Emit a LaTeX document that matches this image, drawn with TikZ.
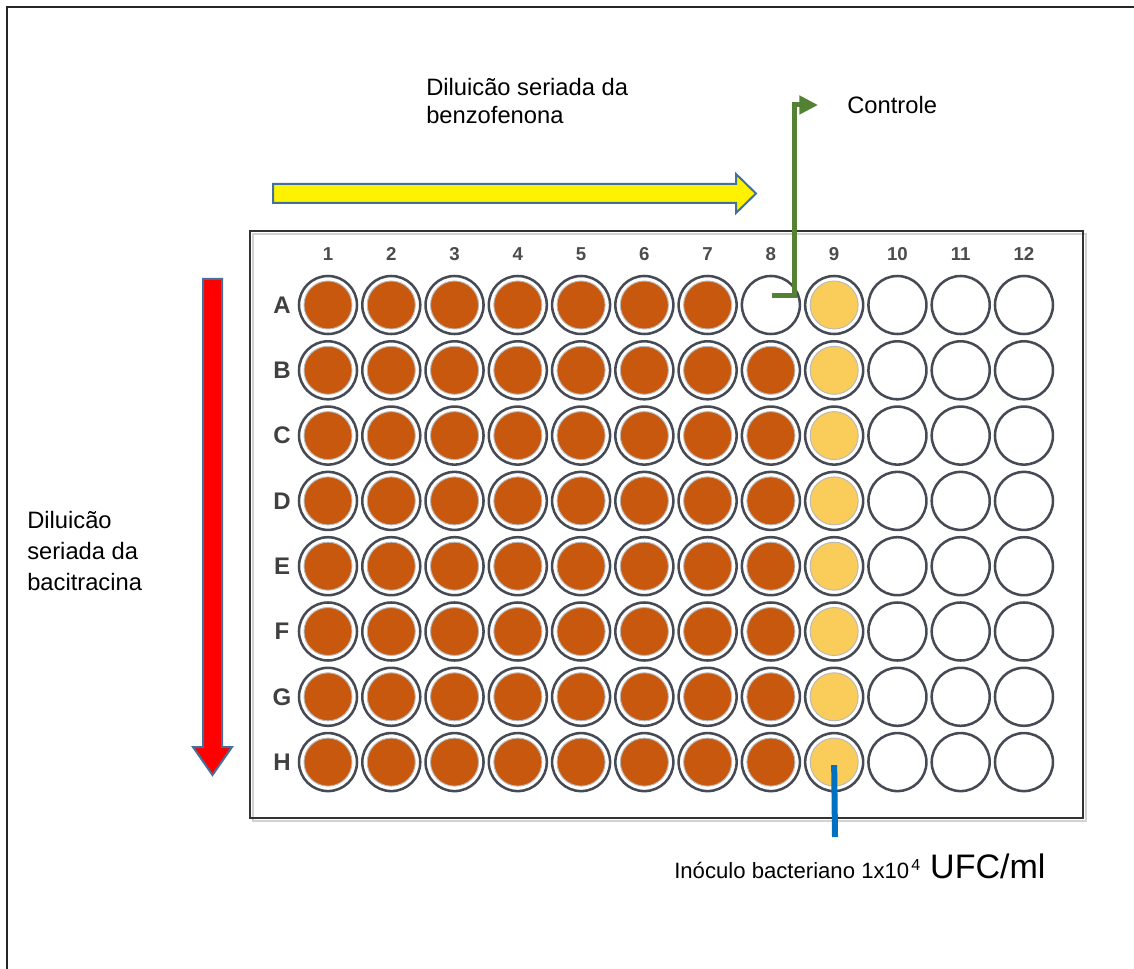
\documentclass[tikz,border=0pt]{standalone}
\usepackage{fontspec}
\setmainfont{Liberation Sans}
\usetikzlibrary{arrows.meta}
\definecolor{wellbrown}{RGB}{200,88,14}
\definecolor{wellyellow}{RGB}{250,205,90}
\definecolor{ringgray}{RGB}{70,74,84}
\definecolor{arrowedge}{RGB}{65,113,156}
\definecolor{conngreen}{RGB}{84,130,53}
\definecolor{connblue}{RGB}{0,112,192}
\tikzset{
  well/.style={circle, draw=ringgray, line width=1.9pt, minimum size=43.5pt, inner sep=0pt, fill=white},
  filledwell/.style={well, path picture={\filldraw[draw=gray!55, line width=0.7pt, fill=#1] (path picture bounding box.center) circle (18pt);}},
  brownwell/.style={filledwell=wellbrown},
  yellowwell/.style={filledwell=wellyellow},
  emptywell/.style={well},
  collabel/.style={font=\fontsize{14}{16}\selectfont\bfseries, text=black!70, inner sep=0pt},
  rowlabel/.style={font=\fontsize{18}{20}\selectfont\bfseries, text=black!75, inner sep=0pt},
  label/.style={font=\fontsize{17.8}{21}\selectfont, inner sep=0pt, align=left},
  blockarrow/.style={draw=arrowedge, line width=1.5pt, line join=miter},
  greenconn/.style={draw=conngreen, line width=3.75pt, line join=miter, -{Triangle[length=14pt,width=13.5pt]}},
  blueconn/.style={draw=connblue, line width=4.5pt},
}
\begin{document}
\begin{tikzpicture}[x=0.75pt,y=-0.75pt]
\clip (0,0) rectangle (1134,969);
\fill[white] (0,0) rectangle (1134,969);
% outer frame
\draw[black!85, line width=1.6pt] (7,7) rectangle (1200,1200);
% plate
\draw[gray!35, line width=2pt] (253,234) rectangle (1086,821);
\draw[black!80, line width=1.8pt] (250,231) rectangle (1083,818);
% column labels
\foreach \c in {1,...,12}{
  \pgfmathsetmacro\wx{328+(\c-1)*63.27}
  \node[collabel] (n\c) at (\wx,254) {\c};
}
% wells
\foreach \r [count=\i from 0] in {A,B,C,D,E,F,G,H}{
  \pgfmathsetmacro\wy{305+\i*65.3}
  \node[rowlabel] (l\r) at (282,\wy) {\r};
  \foreach \c in {1,...,12}{
    \pgfmathsetmacro\wx{328+(\c-1)*63.27}
    \ifnum\c<9 \def\wst{brownwell}\else\ifnum\c=9 \def\wst{yellowwell}\else\def\wst{emptywell}\fi\fi
    \ifnum\i=0 \ifnum\c=8 \def\wst{emptywell}\fi\fi
    \edef\tmp{\noexpand\node[\wst] (\r\c) at (\wx,\wy) {};}\tmp
  }
}
% yellow arrow
\filldraw[blockarrow, fill=yellow] (273,184) -- (736,184) -- (736,174) -- (756,193.5) -- (736,213) -- (736,203) -- (273,203) -- cycle;
% red arrow
\filldraw[blockarrow, fill=red] (203,279) -- (222,279) -- (222,747) -- (232,747) -- (212.5,775) -- (193,747) -- (203,747) -- cycle;
% texts
\node[label, anchor=west] (tbenz) at (426,101) {Diluicão seriada da\\benzofenona};
\node[label, anchor=west, font=\fontsize{17.8}{23}\selectfont] (tbaci) at (27,551) {Diluicão\\seriada da\\bacitracina};
\node[label, anchor=west] (tctrl) at (847,105) {Controle};
\node[inner sep=0pt, anchor=base west] (tinoc) at (674,878) {\fontsize{16.6}{19}\selectfont Inóculo bacteriano 1x10\hspace{1.5pt}\raisebox{6pt}{\fontsize{12}{12}\selectfont 4}\hspace{7.5pt}\fontsize{25.5}{28}\selectfont UFC/ml};
% connectors
\coordinate (gs) at (772,296);
\coordinate (gt) at (818,105);
\draw[greenconn] (gs) -- ++(22,0) |- (gt);
\coordinate (bend) at (835,837);
\draw[blueconn] (H9.center) ++(0,3) -- (bend);
\end{tikzpicture}
\end{document}
